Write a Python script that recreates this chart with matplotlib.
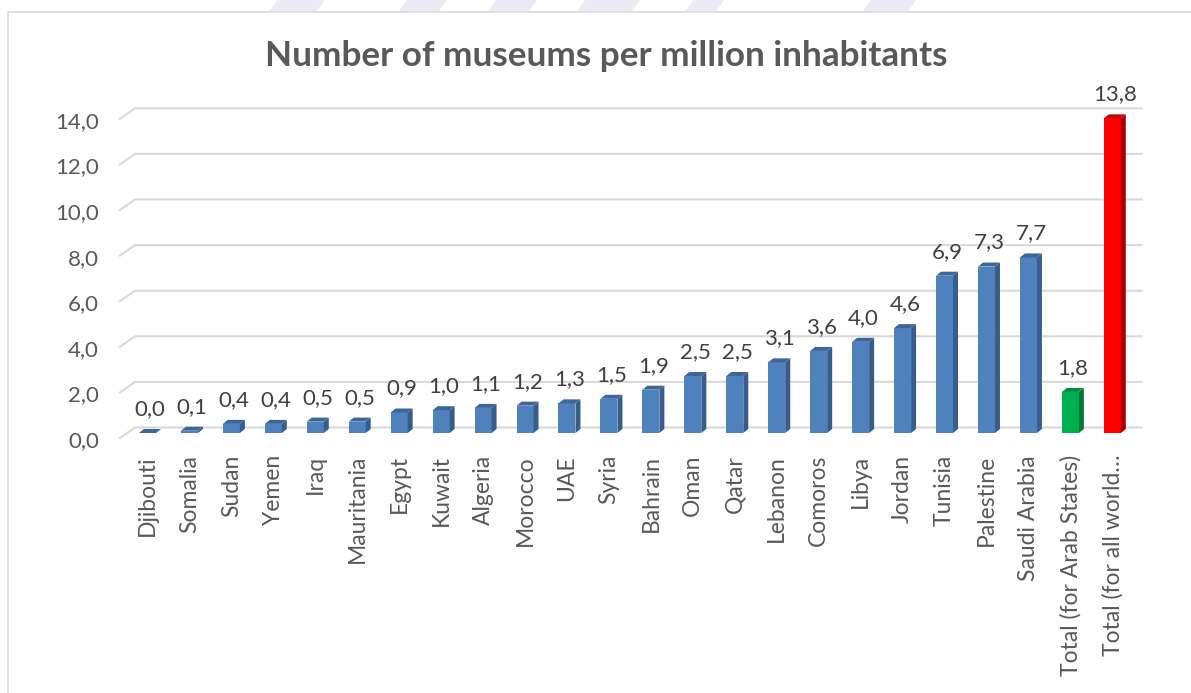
import matplotlib
matplotlib.use("Agg")
import matplotlib.pyplot as plt
import matplotlib.transforms as mtransforms
from matplotlib.patches import Polygon, Rectangle

# data
countries = [
    "Djibouti", "Somalia", "Sudan", "Yemen", "Iraq", "Mauritania", "Egypt",
    "Kuwait", "Algeria", "Morocco", "UAE", "Syria", "Bahrain", "Oman", "Qatar",
    "Lebanon", "Comoros", "Libya", "Jordan", "Tunisia", "Palestine",
    "Saudi Arabia", "Total (for Arab States)", "Total (for all world\u2026",
]
museums_per_million = [
    0.0, 0.1, 0.4, 0.4, 0.5, 0.5, 0.9, 1.0, 1.1, 1.2, 1.3, 1.5, 1.9, 2.5, 2.5,
    3.1, 3.6, 4.0, 4.6, 6.9, 7.3, 7.7, 1.8, 13.8,
]
y_ticks = [0, 2, 4, 6, 8, 10, 12, 14]

BLUE = ("#4f81bd", "#375d8c", "#3d6699")   # front, side, top
GREEN = ("#00b050", "#007a37", "#008f42")
RED = ("#ff0000", "#a80000", "#c80000")
GRID = "#d9d9d9"
TEXT = "#595959"

plt.rcParams["font.family"] = ["Lato", "DejaVu Sans"]

W, H = 1191, 693
fig = plt.figure(figsize=(W / 100, H / 100), dpi=100)
n = len(countries)
ax_w, ax_h = 1006.8, 319.2
ax = fig.add_axes([126.5 / W, 1 - 433 / H, ax_w / W, ax_h / H])
ax.set_xlim(-0.5, n - 0.5)
ax.set_ylim(0, 14)
for s in ax.spines.values():
    s.set_visible(False)

ppx = ax_w / n      # pixels per category
ppy = ax_h / 14     # pixels per unit

# back wall gridlines with the 3D slant at the left
bx, by = 8.5 / ppx, 5.5 / ppy
fx, fy = 6.5 / ppx, 5.0 / ppy
for t in y_ticks:
    ax.plot([-0.5 - fx, -0.5 + bx, n - 0.5 + bx], [t - fy, t + by, t + by],
            color=GRID, lw=1.5, clip_on=False, zorder=1)

colors = [BLUE] * (n - 2) + [GREEN, RED]
width = 0.405
x = list(range(n))
ax.bar(x, museums_per_million, width=width, color=[c[0] for c in colors],
       zorder=3, linewidth=0)

dx, dy = 5 / ppx, 4 / ppy
for i, v in enumerate(museums_per_million):
    xl, xr = i - width / 2, i + width / 2
    side = Polygon([(xr, 0), (xr + dx, dy), (xr + dx, v + dy), (xr, v)],
                   closed=True, facecolor=colors[i][1], edgecolor="none",
                   zorder=3, clip_on=False)
    top = Polygon([(xl, v), (xr, v), (xr + dx, v + dy), (xl + dx, v + dy)],
                  closed=True, facecolor=colors[i][2], edgecolor="none",
                  zorder=4, clip_on=False)
    ax.add_patch(side)
    ax.add_patch(top)
    ax.annotate(f"{v:.1f}".replace(".", ","), (i + dx / 2, v),
                xytext=(0, 24 * 0.72), textcoords="offset points",
                ha="center", va="center", fontsize=16, color="#404040")

ax.set_yticks(y_ticks)
ax.set_yticklabels([f"{t:.1f}".replace(".", ",") for t in y_ticks],
                   fontsize=16, color=TEXT)
ax.tick_params(axis="y", length=0, pad=27.5 * 0.72)
shift = mtransforms.ScaledTranslation(0, -6 / 100, fig.dpi_scale_trans)
for lbl in ax.get_yticklabels():
    lbl.set_transform(lbl.get_transform() + shift)

ax.set_xticks(x)
ax.set_xticklabels(countries, rotation=90, fontsize=16.5, color=TEXT)
ax.tick_params(axis="x", length=0, pad=22 * 0.72)

fig.text(606.5 / W, 1 - 56 / H, "Number of museums per million inhabitants",
         ha="center", va="center", fontsize=25.3, fontweight="bold", color=TEXT)

# chart area border (only left and top edges fall inside the image)
fig.patches.append(Rectangle((8 / W, -0.1), 1.2, 1 - 12 / H + 0.1,
                             transform=fig.transFigure, fill=False,
                             edgecolor=GRID, lw=1.2))

# faint watermark pieces peeking above the chart area
wm = [(277, 325), (407, 447), (496, 537), (585, 640), (693, 724), (871, 916)]
for a, b in wm:
    fig.patches.append(Polygon([(a / W, 1), (b / W, 1), ((b - 8) / W, 1 - 11 / H),
                                ((a - 8) / W, 1 - 11 / H)], closed=True,
                               transform=fig.transFigure, facecolor="#ebebf5",
                               edgecolor="none", zorder=0))

fig.savefig("out.png", dpi=100)
